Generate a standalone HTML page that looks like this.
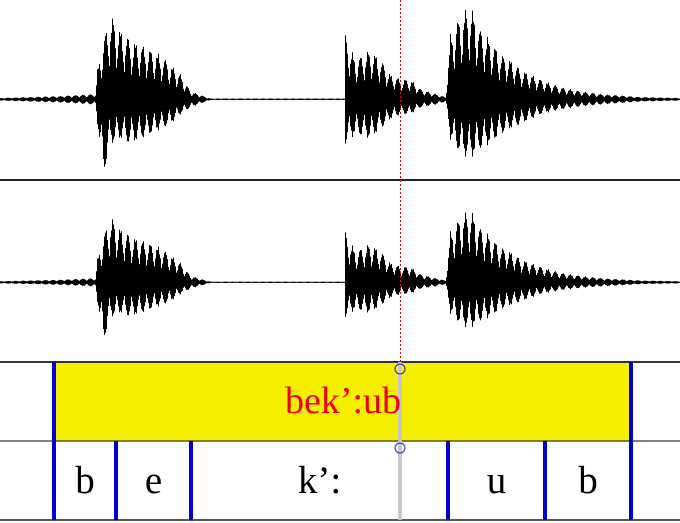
<!DOCTYPE html>
<html><head><meta charset="utf-8"><style>
html,body{margin:0;padding:0;background:#fff;}
svg{display:block;}
svg text{font-family:"Liberation Serif","DejaVu Serif",serif;}
</style></head><body>
<svg id="chart" width="680" height="523" viewBox="0 0 680 523">
  <g id="wave1"></g>
  <g id="wave2"></g>
  <line x1="0" y1="180" x2="680" y2="180" stroke="#222" stroke-width="2"/>
  <rect x="56" y="363" width="573" height="78" fill="#f7ef00"/>
  <line x1="0" y1="362" x2="680" y2="362" stroke="#333" stroke-width="2"/>
  <line x1="0" y1="441" x2="680" y2="441" stroke="#000" stroke-width="1"/>
  <line x1="0" y1="520" x2="680" y2="520" stroke="#555" stroke-width="2"/>
  <g id="bounds"></g>
  <line x1="400" y1="362" x2="400" y2="520" stroke="#c8c8c8" stroke-width="4"/>
  <line x1="400.5" y1="0" x2="400.5" y2="362" stroke="#e00" stroke-width="1" stroke-dasharray="2,2"/>
  <circle cx="400" cy="369" r="5" fill="none" stroke="#22c" stroke-width="1"/>
  <circle cx="400" cy="448" r="5" fill="none" stroke="#22c" stroke-width="1"/>
  <text x="343" y="413" font-size="38" font-family="Liberation Serif, DejaVu Serif, serif" fill="#e00" text-anchor="middle">bek’:ub</text>
  <g id="labels"></g>
</svg>
<script>
const envX   = [0,60,95,97,103,110,120,130,140,150,160,170,180,190,200,210,344,345,355,370,380,390,400,410,420,435,445,450,460,470,480,490,500,510,520,540,560,580,600,640,680];
const envTop = [1,3,5,30,60,85,70,60,55,50,45,35,25,8,4,0.5,0.5,65,40,50,40,25,20,20,10,5,2,65,85,95,70,60,45,40,30,20,12,8,5,2,1];
const envBot = [1,3,5,25,78,45,40,45,40,35,30,25,15,8,4,0.5,0.5,45,35,40,30,20,15,15,8,5,2,40,55,60,50,45,35,30,25,15,10,7,5,2,1];
const wordBounds = [54,631];
const phoneBounds = [54,116,191,448,545,631];
const phoneLabels = ["b","e","k’:","u","b"];
const NS="http://www.w3.org/2000/svg";
function env(arr,x){for(let i=0;i<envX.length-1;i++){if(x>=envX[i]&&x<=envX[i+1]){const t=(x-envX[i])/(envX[i+1]-envX[i]||1);return arr[i]+(arr[i+1]-arr[i])*t;}}return arr[arr.length-1];}
function drawWave(id,cy,scale){
  const g=document.getElementById(id);let d="";
  for(let x=0;x<680;x++){
    const m=0.35+0.65*Math.abs(Math.cos(x*Math.PI/7.5))*(0.8+0.2*Math.abs(Math.sin(x*1.7)));
    const t=env(envTop,x)*scale*m, b=env(envBot,x)*scale*m;
    d+="M"+(x+0.5)+" "+(cy-t).toFixed(1)+"V"+(cy+b+0.6).toFixed(1);
  }
  const p=document.createElementNS(NS,"path");
  p.setAttribute("d",d);p.setAttribute("stroke","#000");p.setAttribute("stroke-width","1");
  
  
  g.appendChild(p);
}
drawWave("wave1",99,1);
drawWave("wave2",282,0.78);
const bg=document.getElementById("bounds");
wordBounds.forEach(x=>{const l=document.createElementNS(NS,"line");
  l.setAttribute("x1",x);l.setAttribute("x2",x);l.setAttribute("y1",362);l.setAttribute("y2",441);
  l.setAttribute("stroke","#0000d0");l.setAttribute("stroke-width","4");
  
  
  bg.appendChild(l);});
phoneBounds.forEach(x=>{const l=document.createElementNS(NS,"line");
  l.setAttribute("x1",x);l.setAttribute("x2",x);l.setAttribute("y1",441);l.setAttribute("y2",520);
  l.setAttribute("stroke","#0000d0");l.setAttribute("stroke-width","4");
  
  
  bg.appendChild(l);});
const lg=document.getElementById("labels");
phoneLabels.forEach((s,i)=>{const t=document.createElementNS(NS,"text");
  t.setAttribute("x",(phoneBounds[i]+phoneBounds[i+1])/2);t.setAttribute("y",493);
  t.setAttribute("font-size","39");t.setAttribute("text-anchor","middle");t.setAttribute("fill","#000");
  t.setAttribute("font-family","Liberation Serif, DejaVu Serif, serif");
  t.textContent=s;
  
  
  lg.appendChild(t);});
</script>
</body></html>
